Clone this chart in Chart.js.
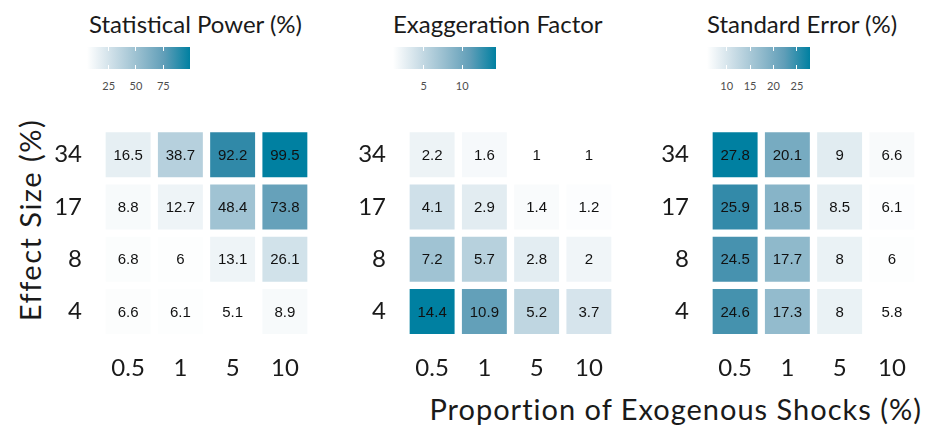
<!DOCTYPE html>
<html>
<head>
<meta charset="utf-8">
<script src="https://cdn.jsdelivr.net/npm/chart.js@4.4.1/dist/chart.umd.min.js"></script>
<style>
  html, body { margin: 0; padding: 0; background: #fff; }
  #wrap { position: relative; width: 925px; height: 425px; overflow: hidden; font-family: Lato, sans-serif; color: #1a1a1a; }
  .title { position: absolute; font-size: 24px; line-height: 24px; white-space: nowrap; top: 12px; }
  .cbar { position: absolute; top: 47px; height: 22px; }
  .ctick { position: absolute; width: 1px; background: #fff; }
  .clab { position: absolute; top: 80px; font-size: 11px; line-height: 12px; color: #4d4d4d; transform: translateX(-50%); white-space: nowrap; }
  .holder { position: absolute; top: 120px; }
  #ytitle { position: absolute; left: 29px; top: 220px; font-size: 29px; line-height: 29px; letter-spacing: 1.5px; white-space: nowrap; transform: translate(-50%, -50%) rotate(-90deg); }
  #xtitle { position: absolute; right: 3px; top: 394px; font-size: 29px; line-height: 29px; letter-spacing: 1px; white-space: nowrap; }
</style>
</head>
<body>
<div id="wrap">
  <div id="ytitle">Effect Size (%)</div>
  <div id="xtitle">Proportion of Exogenous Shocks (%)</div>
</div>
<script>
// ---- data ----
const xLabels = ['0.5', '1', '5', '10'];        // proportion of exogenous shocks (%)
const yLabels = ['4', '8', '17', '34'];         // effect size (%), bottom to top
const panelTitles = ['Statistical Power (%)', 'Exaggeration Factor', 'Standard Error (%)'];

// rows bottom (4) to top (34), columns 0.5, 1, 5, 10
const powerValues = [
  [6.6, 6.1, 5.1, 8.9],
  [6.8, 6, 13.1, 26.1],
  [8.8, 12.7, 48.4, 73.8],
  [16.5, 38.7, 92.2, 99.5]
];
const exaggerationValues = [
  [14.4, 10.9, 5.2, 3.7],
  [7.2, 5.7, 2.8, 2],
  [4.1, 2.9, 1.4, 1.2],
  [2.2, 1.6, 1, 1]
];
const seValues = [
  [24.6, 17.3, 8, 5.8],
  [24.5, 17.7, 8, 6],
  [25.9, 18.5, 8.5, 6.1],
  [27.8, 20.1, 9, 6.6]
];
const powerLegendTicks = [25, 50, 75];
const exaggerationLegendTicks = [5, 10];
const seLegendTicks = [10, 15, 20, 25];

// ---- styling / layout ----
const LOW = [255, 255, 255];
const HIGH = [0, 128, 161];
const panels = [
  { title: panelTitles[0], values: powerValues, ticks: powerLegendTicks, titleX: 89, barX: 87, canvasX: 40 },
  { title: panelTitles[1], values: exaggerationValues, ticks: exaggerationLegendTicks, titleX: 393, barX: 393, canvasX: 344 },
  { title: panelTitles[2], values: seValues, ticks: seLegendTicks, titleX: 707, barX: 707, canvasX: 647 }
];
const BAR_W = 103;

// CIELAB interpolation (like ggplot2's gradient)
function toLin(c) { c /= 255; return c <= 0.04045 ? c / 12.92 : Math.pow((c + 0.055) / 1.055, 2.4); }
function fromLin(c) { const v = c <= 0.0031308 ? 12.92 * c : 1.055 * Math.pow(c, 1 / 2.4) - 0.055; return Math.max(0, Math.min(255, Math.round(v * 255))); }
const WX = 0.95047, WY = 1, WZ = 1.08883;
function f(t) { return t > 0.008856 ? Math.cbrt(t) : 7.787 * t + 16 / 116; }
function fi(t) { return t > 0.206893 ? t * t * t : (t - 16 / 116) / 7.787; }
function rgb2lab(rgb) {
  const [r, g, b] = rgb.map(toLin);
  const x = (0.4124 * r + 0.3576 * g + 0.1805 * b) / WX;
  const y = (0.2126 * r + 0.7152 * g + 0.0722 * b) / WY;
  const z = (0.0193 * r + 0.1192 * g + 0.9505 * b) / WZ;
  return [116 * f(y) - 16, 500 * (f(x) - f(y)), 200 * (f(y) - f(z))];
}
function lab2rgb([L, a, bb]) {
  const fy = (L + 16) / 116, fx = fy + a / 500, fz = fy - bb / 200;
  const x = fi(fx) * WX, y = fi(fy) * WY, z = fi(fz) * WZ;
  const r = 3.2406 * x - 1.5372 * y - 0.4986 * z;
  const g = -0.9689 * x + 1.8758 * y + 0.0415 * z;
  const b = 0.0557 * x - 0.2040 * y + 1.0570 * z;
  return [fromLin(r), fromLin(g), fromLin(b)];
}
const LAB_LOW = rgb2lab(LOW), LAB_HIGH = rgb2lab(HIGH);
function colorFor(v, min, max) {
  const t = (v - min) / (max - min);
  const lab = [0, 1, 2].map(i => LAB_LOW[i] + t * (LAB_HIGH[i] - LAB_LOW[i]));
  const c = lab2rgb(lab);
  return `rgb(${c[0]},${c[1]},${c[2]})`;
}

const cellLabels = {
  id: 'cellLabels',
  afterDatasetsDraw(chart) {
    const ctx = chart.ctx;
    ctx.save();
    ctx.font = '15px "Liberation Sans", Arial, sans-serif';
    ctx.fillStyle = '#111';
    ctx.textAlign = 'center';
    ctx.textBaseline = 'middle';
    chart.data.datasets.forEach((ds, i) => {
      const meta = chart.getDatasetMeta(i);
      meta.data.forEach((el, j) => {
        const p = el.getProps(['x', 'y', 'base'], true);
        ctx.fillText(String(ds.values[j]), p.x, (p.y + p.base) / 2 + 1);
      });
    });
    ctx.restore();
  }
};

const wrap = document.getElementById('wrap');

panels.forEach(panel => {
  const flat = panel.values.flat();
  const min = Math.min(...flat), max = Math.max(...flat);

  const t = document.createElement('div');
  t.className = 'title';
  t.style.left = panel.titleX + 'px';
  t.textContent = panel.title;
  wrap.appendChild(t);

  const bar = document.createElement('div');
  bar.className = 'cbar';
  bar.style.left = panel.barX + 'px';
  bar.style.width = BAR_W + 'px';
  const stops = [0, 0.25, 0.5, 0.75, 1].map(s => colorFor(min + s * (max - min), min, max) + ' ' + (s * 100) + '%');
  bar.style.background = `linear-gradient(to right, ${stops.join(', ')})`;
  wrap.appendChild(bar);
  panel.ticks.forEach(v => {
    const px = panel.barX + (v - min) / (max - min) * BAR_W;
    [47, 65].forEach(top => {
      const tk = document.createElement('div');
      tk.className = 'ctick';
      tk.style.left = (px - 0.5) + 'px';
      tk.style.top = top + 'px';
      tk.style.height = '4px';
      wrap.appendChild(tk);
    });
    const lb = document.createElement('div');
    lb.className = 'clab';
    lb.style.left = px + 'px';
    lb.textContent = String(v);
    wrap.appendChild(lb);
  });

  const holder = document.createElement('div');
  holder.className = 'holder';
  holder.style.left = panel.canvasX + 'px';
  const canvas = document.createElement('canvas');
  canvas.width = 277; canvas.height = 270;
  canvas.style.width = '277px'; canvas.style.height = '270px';
  holder.appendChild(canvas);
  wrap.appendChild(holder);

  const datasets = panel.values.map((row, r) => ({
    data: row.map(() => [r - 0.43, r + 0.43]),
    values: row,
    backgroundColor: row.map(v => colorFor(v, min, max)),
    borderWidth: 0,
    grouped: false,
    barPercentage: 0.86,
    categoryPercentage: 1
  }));

  new Chart(canvas, {
    type: 'bar',
    data: { labels: xLabels, datasets },
    options: {
      responsive: false,
      animation: false,
      devicePixelRatio: 1,
      layout: { padding: { top: 8.5, right: 6, left: 0, bottom: 0 } },
      plugins: { legend: { display: false }, tooltip: { enabled: false } },
      scales: {
        x: {
          type: 'category',
          grid: { display: false, drawTicks: false },
          border: { display: false },
          ticks: { color: '#1a1a1a', font: { family: 'Lato', size: 24 }, padding: 16, maxRotation: 0 },
          afterFit(s) { s.height = 52.3; s.paddingLeft = 0; s.paddingRight = 0; }
        },
        y: {
          type: 'linear',
          min: -0.5, max: 3.5,
          grid: { display: false, drawTicks: false },
          border: { display: false },
          afterBuildTicks(s) { s.ticks = [0, 1, 2, 3].map(v => ({ value: v })); },
          ticks: { color: '#1a1a1a', font: { family: 'Lato', size: 24 }, padding: 20,
                   callback: v => yLabels[v] },
          afterFit(s) { s.width = 62; s.paddingTop = 0; s.paddingBottom = 0; }
        }
      }
    },
    plugins: [cellLabels]
  });
});
</script>
</body>
</html>
